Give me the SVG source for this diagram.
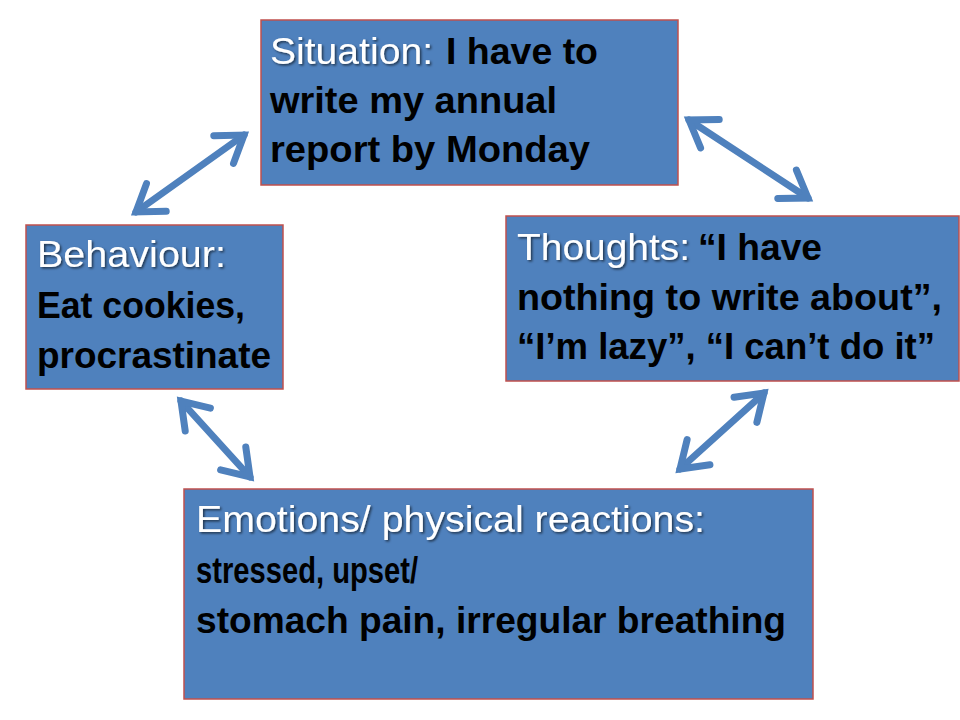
<svg xmlns="http://www.w3.org/2000/svg" width="960" height="720" viewBox="0 0 960 720">
  <style>
    .box { fill: #4F81BD; stroke: #C0504D; stroke-width: 1.5; }
    .w { font-family: "Liberation Sans", Arial, sans-serif; font-size: 36px; fill: #FFFFFF; filter: url(#sh); }
    .b { font-family: "Liberation Sans", Arial, sans-serif; font-size: 36px; font-weight: bold; fill: #000000; }
    .arr { stroke: #4F81BD; stroke-width: 7; stroke-linecap: round; fill: none; marker-start: url(#ah); marker-end: url(#ah); }
  </style>
  <defs>
    <filter id="sh" x="-5%" y="-20%" width="110%" height="140%">
      <feDropShadow dx="1.5" dy="1.5" stdDeviation="0.8" flood-color="#000000" flood-opacity="0.6"/>
    </filter>
    <marker id="ah" markerUnits="userSpaceOnUse" viewBox="-32 -24 40 48" refX="0" refY="0" markerWidth="40" markerHeight="48" orient="auto-start-reverse">
      <path d="M-25,-17 L0,0 L-25,17" fill="none" stroke="#4F81BD" stroke-width="7" stroke-linecap="round" stroke-linejoin="miter"/>
    </marker>
  </defs>
  <rect width="960" height="720" fill="#FFFFFF"/>

  <g id="connectors">
    <line class="arr" x1="136" y1="212" x2="244" y2="135"/>
    <line class="arr" x1="689" y1="120" x2="808" y2="198"/>
    <line class="arr" x1="181" y1="401" x2="250" y2="477"/>
    <line class="arr" x1="764" y1="393" x2="680" y2="469"/>
  </g>

  <g id="situation">
    <rect class="box" x="261" y="20" width="417" height="165"/>
    <text class="w" x="270" y="64" textLength="163" lengthAdjust="spacingAndGlyphs">Situation:</text>
    <text class="b" x="446" y="64" textLength="152" lengthAdjust="spacingAndGlyphs">I have to</text>
    <text class="b" x="270" y="113" textLength="287" lengthAdjust="spacingAndGlyphs">write my annual</text>
    <text class="b" x="270" y="162" textLength="320" lengthAdjust="spacingAndGlyphs">report by Monday</text>
  </g>

  <g id="thoughts">
    <rect class="box" x="506" y="216" width="453" height="165"/>
    <text class="w" x="517" y="260" textLength="173" lengthAdjust="spacingAndGlyphs">Thoughts:</text>
    <text class="b" x="698" y="260" textLength="124" lengthAdjust="spacingAndGlyphs">“I have</text>
    <text class="b" x="517" y="310" textLength="425" lengthAdjust="spacingAndGlyphs">nothing to write about”,</text>
    <text class="b" x="517" y="359" textLength="418" lengthAdjust="spacingAndGlyphs">“I’m lazy”, “I can’t do it”</text>
  </g>

  <g id="behaviour">
    <rect class="box" x="26" y="225" width="257" height="164"/>
    <text class="w" x="37" y="267" textLength="189" lengthAdjust="spacingAndGlyphs">Behaviour:</text>
    <text class="b" x="37" y="318" textLength="208" lengthAdjust="spacingAndGlyphs">Eat cookies,</text>
    <text class="b" x="37" y="368" textLength="234" lengthAdjust="spacingAndGlyphs">procrastinate</text>
  </g>

  <g id="emotions">
    <rect class="box" x="184" y="489" width="629" height="210"/>
    <text class="w" x="196" y="532" textLength="509" lengthAdjust="spacingAndGlyphs">Emotions/ physical reactions:</text>
    <text class="b" x="196" y="583" textLength="222" lengthAdjust="spacingAndGlyphs">stressed, upset/</text>
    <text class="b" x="196" y="633" textLength="590" lengthAdjust="spacingAndGlyphs">stomach pain, irregular breathing</text>
  </g>
</svg>
